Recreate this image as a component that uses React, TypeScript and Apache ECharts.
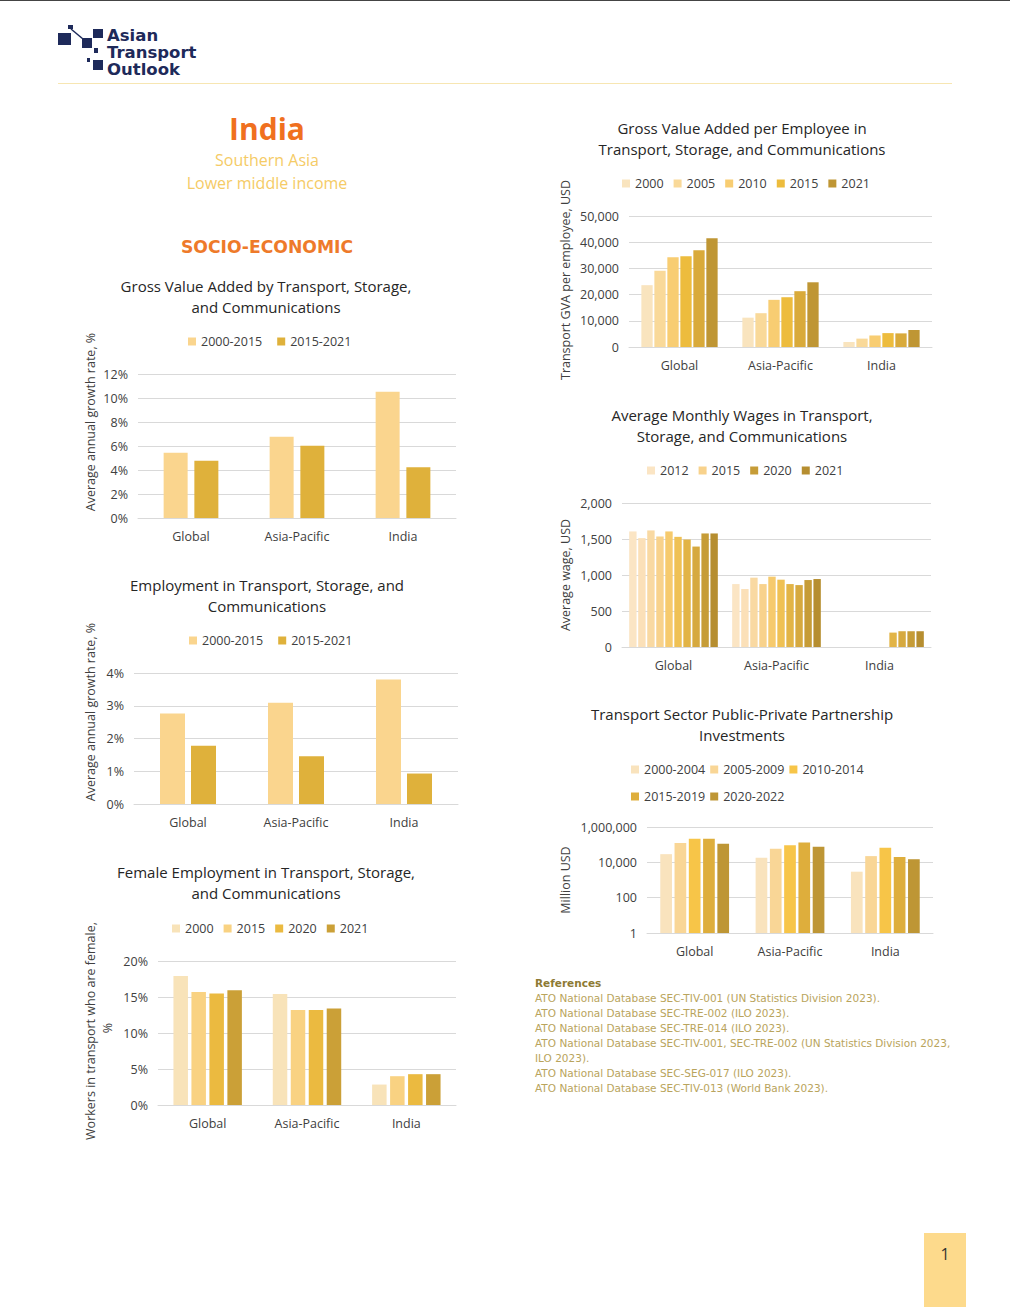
import React, { useEffect, useRef } from "react";
import * as echarts from "echarts";

const FONT = "'Open Sans', sans-serif";
const TXT = "#404040";
const GRIDC = "#D9D9D9";

const categories = ["Global", "Asia-Pacific", "India"];

// Chart 1: GVA growth (%)
const gvaGrowth2000_2015 = [5.44, 6.78, 10.53];
const gvaGrowth2015_2021 = [4.78, 6.03, 4.22];
const growthPeriods = ["2000-2015", "2015-2021"];
const growthColors = ["#FAD58E", "#DFB13B"];

// Chart 2: Employment growth (%)
const empGrowth2000_2015 = [2.76, 3.09, 3.8];
const empGrowth2015_2021 = [1.78, 1.46, 0.93];

// Chart 3: Female share (%)
const femaleYears = ["2000", "2015", "2020", "2021"];
const female2000 = [17.9, 15.4, 2.84];
const female2015 = [15.7, 13.2, 4.0];
const female2020 = [15.5, 13.2, 4.28];
const female2021 = [15.95, 13.4, 4.28];
const femaleColors = ["#F8E3B9", "#F9D282", "#EBBA40", "#CBA037"];

// Chart 4: GVA per employee (USD)
const gvaEmpYears = ["2000", "2005", "2010", "2015", "2020", "2021"];
const gvaEmpLegend = ["2000", "2005", "2010", "2015", "2021"];
const gvaEmp2000 = [23600, 11200, 1900];
const gvaEmp2005 = [29100, 12900, 3200];
const gvaEmp2010 = [34300, 18000, 4400];
const gvaEmp2015 = [34600, 19000, 5300];
const gvaEmp2020 = [36900, 21300, 5200];
const gvaEmp2021 = [41500, 24700, 6500];
const gvaEmpColors = ["#F9E4BE", "#F9D999", "#F8CD72", "#EDBC3D", "#D9AA3A", "#BF9634"];

// Chart 5: Monthly wages (USD)
const wageYears = ["2012", "2013", "2014", "2015", "2016", "2017", "2018", "2019", "2020", "2021"];
const wageLegend = ["2012", "2015", "2020", "2021"];
const wage2012 = [1605, 874, null];
const wage2013 = [1512, 805, null];
const wage2014 = [1619, 963, null];
const wage2015 = [1535, 874, null];
const wage2016 = [1605, 977, null];
const wage2017 = [1530, 935, null];
const wage2018 = [1493, 874, 200];
const wage2019 = [1395, 860, 219];
const wage2020 = [1577, 930, 219];
const wage2021 = [1577, 944, 219];
const wageColors = ["#FBE5C4", "#FBE0B8", "#F9D9A2", "#F8D28C", "#F6CA6D", "#EFC154", "#E2B446", "#D6A93F", "#C69C37", "#B68E30"];

// Chart 6: PPP investments (million USD, log)
const pppPeriods = ["2000-2004", "2005-2009", "2010-2014", "2015-2019", "2020-2022"];
const ppp2000_2004 = [29000, 18000, 2950];
const ppp2005_2009 = [126000, 58000, 22500];
const ppp2010_2014 = [213000, 94000, 66000];
const ppp2015_2019 = [213000, 132000, 20000];
const ppp2020_2022 = [112000, 75000, 15000];
const pppColors = ["#F9E3BD", "#F9D696", "#F7C548", "#DEAE3C", "#BE9635"];

const logoLines = ["Asian", "Transport", "Outlook"];

const references = [
  "ATO National Database SEC-TIV-001 (UN Statistics Division 2023).",
  "ATO National Database SEC-TRE-002 (ILO 2023).",
  "ATO National Database SEC-TRE-014 (ILO 2023).",
  "ATO National Database SEC-TIV-001, SEC-TRE-002 (UN Statistics Division 2023,",
  "ILO 2023).",
  "ATO National Database SEC-SEG-017 (ILO 2023).",
  "ATO National Database SEC-TIV-013 (World Bank 2023).",
];

function txt(x: number, y: number, text: string, o: any = {}) {
  const style: any = {
    text,
    fill: o.fill || "#262626",
    font: `${o.weight || "normal"} ${o.size || 15}px ${o.family || FONT}`,
    textAlign: o.align || "center",
    textVerticalAlign: "middle",
  };
  if (o.lineHeight) style.lineHeight = o.lineHeight;
  return {
    type: "text",
    x,
    y,
    rotation: o.rotation || 0,
    silent: true,
    style,
  };
}

function catAxis(gridIndex: number) {
  return {
    type: "category",
    gridIndex,
    data: categories,
    axisTick: { show: false },
    axisLine: { lineStyle: { color: GRIDC } },
    axisLabel: { color: TXT, fontSize: 12.5, fontFamily: FONT, margin: 12 },
  };
}

function valAxis(gridIndex: number, max: number, interval: number, fmt: (v: number) => string) {
  return {
    type: "value",
    gridIndex,
    min: 0,
    max,
    interval,
    axisLine: { show: false },
    axisTick: { show: false },
    splitLine: { lineStyle: { color: GRIDC } },
    axisLabel: { color: TXT, fontSize: 12.5, fontFamily: FONT, margin: 10, formatter: fmt },
  };
}

function bars(idx: number, prefix: string, names: string[], colors: string[], datas: any[], barWidth: number, barGap: string) {
  return names.map((n, i) => ({
    type: "bar",
    name: `${prefix}:${n}`,
    xAxisIndex: idx,
    yAxisIndex: idx,
    barWidth,
    barGap,
    itemStyle: { color: colors[i] },
    data: datas[i],
  }));
}

function legend(left: number, cy: number, prefix: string, names: string[], itemGap: number) {
  return {
    left,
    top: cy - 7,
    padding: 0,
    itemWidth: 8,
    itemHeight: 8,
    itemGap,
    icon: "rect",
    selectedMode: false,
    data: names.map((n) => `${prefix}:${n}`),
    formatter: (n: string) => n.split(":")[1],
    textStyle: { color: TXT, fontSize: 12.5, fontFamily: FONT },
  };
}

const comma = (v: number) => Math.round(v).toLocaleString("en-US");
const pct = (v: number) => `${v}%`;

export default function App() {
  const ref = useRef<HTMLDivElement>(null);
  useEffect(() => {
    if (!ref.current) return;
    const chart = echarts.init(ref.current, null, { renderer: "svg" });

    const NAVY = "#1E2A5A";
    const logo: any[] = [
      { type: "rect", shape: { x: 58, y: 33, width: 13, height: 12 }, style: { fill: NAVY } },
      { type: "rect", shape: { x: 68, y: 25, width: 5, height: 4 }, style: { fill: NAVY } },
      { type: "line", shape: { x1: 71, y1: 29, x2: 83, y2: 39 }, style: { stroke: NAVY, lineWidth: 1.5 } },
      { type: "rect", shape: { x: 82, y: 38, width: 10, height: 10 }, style: { fill: NAVY } },
      { type: "rect", shape: { x: 93, y: 29, width: 10, height: 9 }, style: { fill: NAVY } },
      { type: "rect", shape: { x: 94, y: 48, width: 4, height: 5 }, style: { fill: NAVY } },
      { type: "rect", shape: { x: 87, y: 58, width: 3, height: 4 }, style: { fill: NAVY } },
      { type: "rect", shape: { x: 93, y: 60, width: 10, height: 10 }, style: { fill: NAVY } },
      ...logoLines.map((l, i) =>
        txt(107, 35 + i * 17, l, { align: "left", size: 16.5, lineHeight: 16, weight: "bold", family: "'DejaVu Sans'", fill: NAVY })
      ),
    ];

    const graphics: any[] = [
      { type: "line", shape: { x1: 0, y1: 0.5, x2: 1010, y2: 0.5 }, style: { stroke: "#444", lineWidth: 1 } },
      { type: "line", shape: { x1: 58, y1: 83.5, x2: 952, y2: 83.5 }, style: { stroke: "#F7E6B2", lineWidth: 1 } },
      ...logo,
      txt(267, 128, "India", { size: 30, weight: "bold", fill: "#F0701F" }),
      txt(267, 160, "Southern Asia", { size: 16, fill: "#F5CB66" }),
      txt(267, 183, "Lower middle income", { size: 16, fill: "#F5CB66" }),
      txt(267, 247, "SOCIO-ECONOMIC", { size: 17.2, weight: "bold", family: "'DejaVu Sans'", fill: "#EE7A2A" }),
      // chart titles
      txt(266, 286, "Gross Value Added by Transport, Storage,", { size: 15 }),
      txt(266, 307, "and Communications", { size: 15 }),
      txt(267, 585, "Employment in Transport, Storage, and", { size: 15 }),
      txt(267, 606, "Communications", { size: 15 }),
      txt(266, 872, "Female Employment in Transport, Storage,", { size: 15 }),
      txt(266, 893, "and Communications", { size: 15 }),
      txt(742, 128, "Gross Value Added per Employee in", { size: 15 }),
      txt(742, 149, "Transport, Storage, and Communications", { size: 15 }),
      txt(742, 415, "Average Monthly Wages in Transport,", { size: 15 }),
      txt(742, 436, "Storage, and Communications", { size: 15 }),
      txt(742, 714, "Transport Sector Public-Private Partnership", { size: 15 }),
      txt(742, 735, "Investments", { size: 15 }),
      // y axis titles
      txt(90, 422, "Average annual growth rate, %", { size: 12.5, rotation: Math.PI / 2, fill: TXT }),
      txt(90, 712, "Average annual growth rate, %", { size: 12.5, rotation: Math.PI / 2, fill: TXT }),
      txt(90, 1031, "Workers in transport who are female,", { size: 12.5, rotation: Math.PI / 2, fill: TXT }),
      txt(107, 1028, "%", { size: 12.5, rotation: Math.PI / 2, fill: TXT }),
      txt(565, 280, "Transport GVA per employee, USD", { size: 12.5, rotation: Math.PI / 2, fill: TXT }),
      txt(565, 575, "Average wage, USD", { size: 12.5, rotation: Math.PI / 2, fill: TXT }),
      txt(565, 880, "Million USD", { size: 12.5, rotation: Math.PI / 2, fill: TXT }),
      // references
      txt(535, 983, "References", { align: "left", size: 10.5, weight: "bold", family: "'DejaVu Sans'", fill: "#8E7A33" }),
      ...references.map((r, i) => txt(535, 998 + i * 15, r, { align: "left", size: 10.5, family: "'DejaVu Sans'", fill: "#B9A45C" })),
      // page number
      { type: "rect", shape: { x: 924, y: 1233, width: 42, height: 74 }, style: { fill: "#FDDA8C" } },
      txt(945, 1254, "1", { size: 16, fill: "#333" }),
    ];

    chart.setOption({
      animation: false,
      backgroundColor: "#ffffff",
      grid: [
        { left: 138, top: 374, width: 318, height: 144 },
        { left: 134, top: 673, width: 324, height: 131 },
        { left: 158, top: 961, width: 298, height: 144 },
        { left: 629, top: 216, width: 303, height: 131 },
        { left: 622, top: 503, width: 309, height: 144 },
        { left: 647, top: 827, width: 286, height: 106 },
      ],
      xAxis: [0, 1, 2, 3, 4, 5].map((i) => catAxis(i)),
      yAxis: [
        valAxis(0, 12, 2, pct),
        valAxis(1, 4, 1, pct),
        valAxis(2, 20, 5, pct),
        valAxis(3, 50000, 10000, comma),
        valAxis(4, 2000, 500, comma),
        {
          type: "log",
          gridIndex: 5,
          logBase: 100,
          min: 1,
          max: 1000000,
          axisLine: { show: false },
          axisTick: { show: false },
          splitLine: { lineStyle: { color: GRIDC } },
          axisLabel: { color: TXT, fontSize: 12.5, fontFamily: FONT, margin: 10, formatter: comma },
        },
      ],
      legend: [
        legend(188, 342, "c1", growthPeriods, 15),
        legend(189, 641, "c2", growthPeriods, 15),
        legend(172, 929, "c3", femaleYears, 10),
        legend(622, 184, "c4", gvaEmpLegend, 10),
        legend(647, 471, "c5", wageLegend, 10),
        legend(631, 770, "c6", pppPeriods.slice(0, 3), 5),
        legend(631, 797, "c6", pppPeriods.slice(3), 5),
      ],
      series: [
        ...bars(0, "c1", growthPeriods, growthColors, [gvaGrowth2000_2015, gvaGrowth2015_2021], 24, "28%"),
        ...bars(1, "c2", growthPeriods, growthColors, [empGrowth2000_2015, empGrowth2015_2021], 25, "24%"),
        ...bars(2, "c3", femaleYears, femaleColors, [female2000, female2015, female2020, female2021], 14.5, "24%"),
        ...bars(3, "c4", gvaEmpYears, gvaEmpColors, [gvaEmp2000, gvaEmp2005, gvaEmp2010, gvaEmp2015, gvaEmp2020, gvaEmp2021], 11.3, "15%"),
        ...bars(4, "c5", wageYears, wageColors, [wage2012, wage2013, wage2014, wage2015, wage2016, wage2017, wage2018, wage2019, wage2020, wage2021], 7.4, "22%"),
        ...bars(5, "c6", pppPeriods, pppColors, [ppp2000_2004, ppp2005_2009, ppp2010_2014, ppp2015_2019, ppp2020_2022], 11.7, "22%"),
      ],
      graphic: graphics,
    });
    return () => chart.dispose();
  }, []);
  return (
    <div
      ref={ref}
      style={{ position: "absolute", left: 0, top: 0, width: 1010, height: 1307, background: "#fff" }}
    />
  );
}
